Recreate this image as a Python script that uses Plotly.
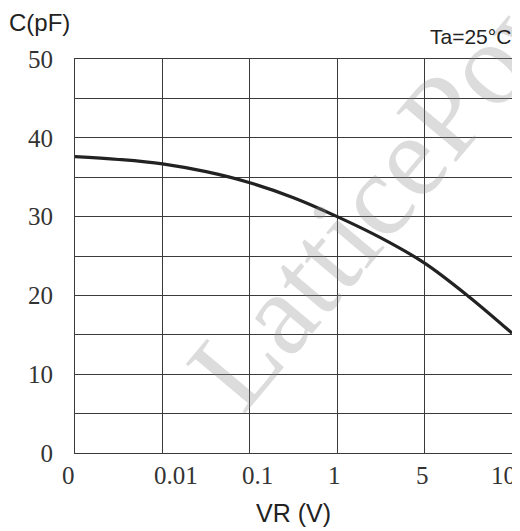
import plotly.graph_objects as go

# Data
tick_labels = ["0", "0.01", "0.1", "1", "5", "10"]
tick_pos = [0, 1, 2, 3, 4, 5]
curve_pos = [0, 0.5, 1, 1.5, 2, 2.5, 3, 3.5, 4, 4.5, 5]
curve_c = [37.6, 37.25, 36.7, 35.7, 34.3, 32.4, 30.0, 27.3, 24.1, 19.9, 15.2]
y_ticks = [0, 10, 20, 30, 40, 50]

# per-label horizontal nudges of the x tick labels, as in the original artwork (px)
x_label_shift = [-7, 14, 8, -3, -2, -9]

grid_col = "#3a3a3a"
serif = "Liberation Serif, Times New Roman, serif"
sans = "Liberation Sans, Arial, sans-serif"

# page body has an 8px margin: figure coordinates = page coordinates - 8
W, H = 512, 523
L, R, T, B = 67, 8, 51, 78
PW, PH = W - L - R, H - T - B


def px(xp):
    return (xp - 8 - L) / PW


def py(yp):
    return (H - B - (yp - 8)) / PH


fig = go.Figure()
fig.add_trace(go.Scatter(
    x=curve_pos, y=curve_c, mode="lines",
    line=dict(color="#222222", width=3.2, shape="spline", smoothing=1.0),
    showlegend=False, hoverinfo="skip", cliponaxis=False,
))

annotations = [
    dict(text="LatticePower", xref="paper", yref="paper",
         x=px(414), y=py(150),
         xanchor="center", yanchor="middle", textangle=-50, showarrow=False,
         font=dict(family=serif, size=118, color="rgba(140,140,140,0.3)")),
    dict(text="C(pF)", xref="paper", yref="paper",
         x=px(7), y=py(23), xanchor="left", yanchor="middle",
         showarrow=False, font=dict(family=sans, size=24, color="#222222")),
    dict(text="Ta=25°C", xref="paper", yref="paper",
         x=px(513), y=py(37), xanchor="right", yanchor="middle",
         showarrow=False, font=dict(family=sans, size=21, color="#222222")),
    dict(text="VR (V)", xref="paper", yref="paper",
         x=px(293), y=py(513), xanchor="center", yanchor="middle",
         showarrow=False, font=dict(family=sans, size=25, color="#222222")),
]
for pos, lab, sh in zip(tick_pos, tick_labels, x_label_shift):
    annotations.append(dict(
        text=lab, xref="x", yref="paper", x=pos, y=py(476), xshift=sh,
        xanchor="center", yanchor="middle", showarrow=False,
        font=dict(family=serif, size=25, color="#333333"),
    ))

fig.update_layout(
    width=W, height=H,
    margin=dict(l=L, r=R, t=T, b=B, autoexpand=False),
    paper_bgcolor="white", plot_bgcolor="white",
    xaxis=dict(
        range=[0, 5], tickvals=tick_pos,
        showticklabels=False,
        showgrid=True, gridcolor=grid_col, gridwidth=1,
        showline=True, linecolor=grid_col, linewidth=1, mirror=True,
        zeroline=False, ticks="",
    ),
    yaxis=dict(
        range=[0, 50], tickvals=y_ticks,
        showgrid=True, gridcolor=grid_col, gridwidth=1,
        minor=dict(dtick=5, showgrid=True, gridcolor=grid_col, gridwidth=1, ticks=""),
        showline=True, linecolor=grid_col, linewidth=1, mirror=True,
        zeroline=False, ticks="",
        tickfont=dict(family=serif, size=25, color="#333333"),
        ticklabelstandoff=16,
    ),
    annotations=annotations,
)

fig.write_html("out.html")
